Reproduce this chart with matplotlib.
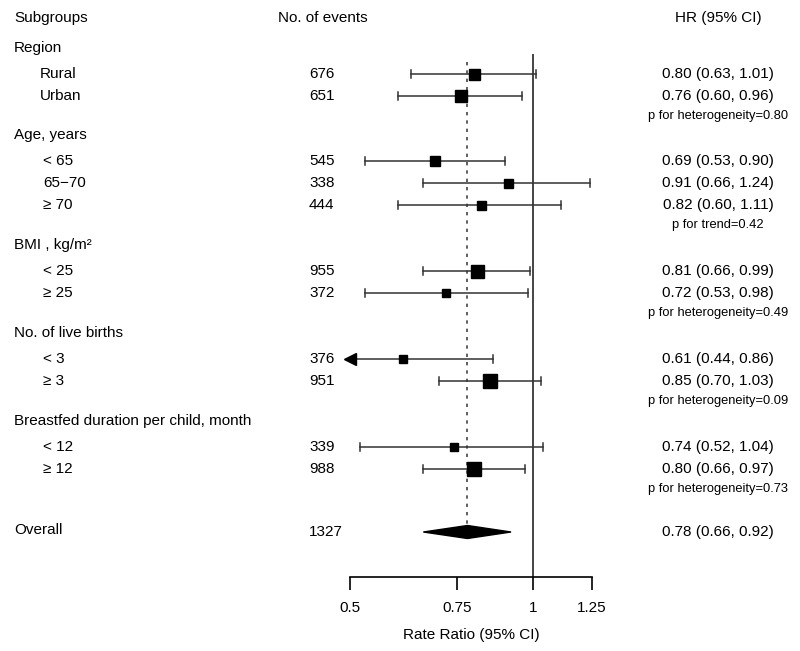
import matplotlib
matplotlib.use("Agg")
import matplotlib.pyplot as plt
import numpy as np

plt.rcParams['font.family'] = ['Liberation Sans', 'DejaVu Sans']

# data
groups = ["Region", "Age, years", "BMI , kg/m²", "No. of live births",
          "Breastfed duration per child, month"]
labels = ["Rural", "Urban",
          "< 65", "65\u221270", "\u2265 70",
          "< 25", "\u2265 25",
          "< 3", "\u2265 3",
          "< 12", "\u2265 12"]
events = [676, 651, 545, 338, 444, 955, 372, 376, 951, 339, 988]
hr = [0.80, 0.76, 0.69, 0.91, 0.82, 0.81, 0.72, 0.61, 0.85, 0.74, 0.80]
lo = [0.63, 0.60, 0.53, 0.66, 0.60, 0.66, 0.53, 0.44, 0.70, 0.52, 0.66]
hi = [1.01, 0.96, 0.90, 1.24, 1.11, 0.99, 0.98, 0.86, 1.03, 1.04, 0.97]
ptexts = ["p for heterogeneity=0.80", "p for trend=0.42", "p for heterogeneity=0.49",
          "p for heterogeneity=0.09", "p for heterogeneity=0.73"]
overall_events = 1327
overall = (0.78, 0.66, 0.92)

# layout (pixel rows)
n_in_group = [2, 3, 2, 2, 2]
group_y = [48, 135, 245, 333, 421]
box_px = [11, 12, 10, 9, 9, 13, 8, 7.5, 14, 8, 14]
overall_y = 532

W, H = 800, 651
fig = plt.figure(figsize=(8, 6.51), dpi=100)
tx = fig.add_axes([0, 0, 1, 1])
tx.set_xlim(0, W)
tx.set_ylim(H, 0)
tx.axis("off")

y0, y1 = 40, 577
x0, x1 = 350, 592
ax = fig.add_axes([x0 / W, (H - y1) / H, (x1 - x0) / W, (y1 - y0) / H])
ax.set_xscale("log")
ax.set_xlim(0.5, 1.25)
ax.set_ylim(y1, y0)
ax.patch.set_alpha(0)
for s in ["top", "right", "left"]:
    ax.spines[s].set_visible(False)
ax.spines["bottom"].set_linewidth(1.2)
ax.set_yticks([])
ticks = [0.5, 0.75, 1, 1.25]
ax.set_xticks(ticks)
ax.set_xticklabels(["0.5", "0.75", "1", "1.25"], fontsize=11)
ax.minorticks_off()
ax.tick_params(axis="x", length=9, width=1.2, pad=8)
ax.set_xlabel("Rate Ratio (95% CI)", fontsize=11, labelpad=10)

fs = 11
lx = 14
tx.text(lx, 18, "Subgroups", fontsize=fs, va="center")
tx.text(278, 18, "No. of events", fontsize=fs, va="center")
tx.text(718, 18, "HR (95% CI)", fontsize=fs, va="center", ha="center")

row_y = []
for g, gy, n, pt in zip(groups, group_y, n_in_group, ptexts):
    tx.text(lx, gy, g, fontsize=fs, va="center")
    ys = [gy + 26 + 22 * k for k in range(n)]
    row_y += ys
    tx.text(718, ys[-1] + 20, pt, fontsize=9.3, va="center", ha="center")

for i, y in enumerate(row_y):
    tx.text(40 if i < 2 else 43, y, labels[i], fontsize=fs, va="center")
    tx.text(309, y, str(events[i]), fontsize=fs, va="center")
    tx.text(718, y, "%.2f (%.2f, %.2f)" % (hr[i], lo[i], hi[i]),
            fontsize=fs, va="center", ha="center")
    l = max(lo[i], 0.5)
    ax.plot([l, hi[i]], [y, y], color="#333333", lw=1.1, zorder=2)
    ax.plot([hi[i], hi[i]], [y - 4, y + 4], color="#333333", lw=1.1, zorder=2)
    if lo[i] < 0.5:
        ax.plot([0.5], [y], marker="<", ms=9, color="black", clip_on=False, zorder=3)
    else:
        ax.plot([lo[i], lo[i]], [y - 4, y + 4], color="#333333", lw=1.1, zorder=2)
    ax.plot([hr[i]], [y], marker="s", ms=box_px[i] * 0.72, color="black",
            mec="black", zorder=4)

# overall
tx.text(lx, overall_y - 2, "Overall", fontsize=fs, va="center")
tx.text(309, overall_y, str(overall_events), fontsize=fs, va="center")
tx.text(718, overall_y, "%.2f (%.2f, %.2f)" % overall, fontsize=fs, va="center", ha="center")
m, a, b = overall
ax.fill([a, m, b, m], [overall_y, overall_y - 6.5, overall_y, overall_y + 6.5],
        color="black", zorder=4)

ax.plot([1, 1], [55, y1], color="#444444", lw=1.4, zorder=1)
ax.plot([m, m], [62, overall_y], color="#444444", lw=1.2, ls=(0, (2, 3)), zorder=1)

fig.savefig("out.png", dpi=100)
